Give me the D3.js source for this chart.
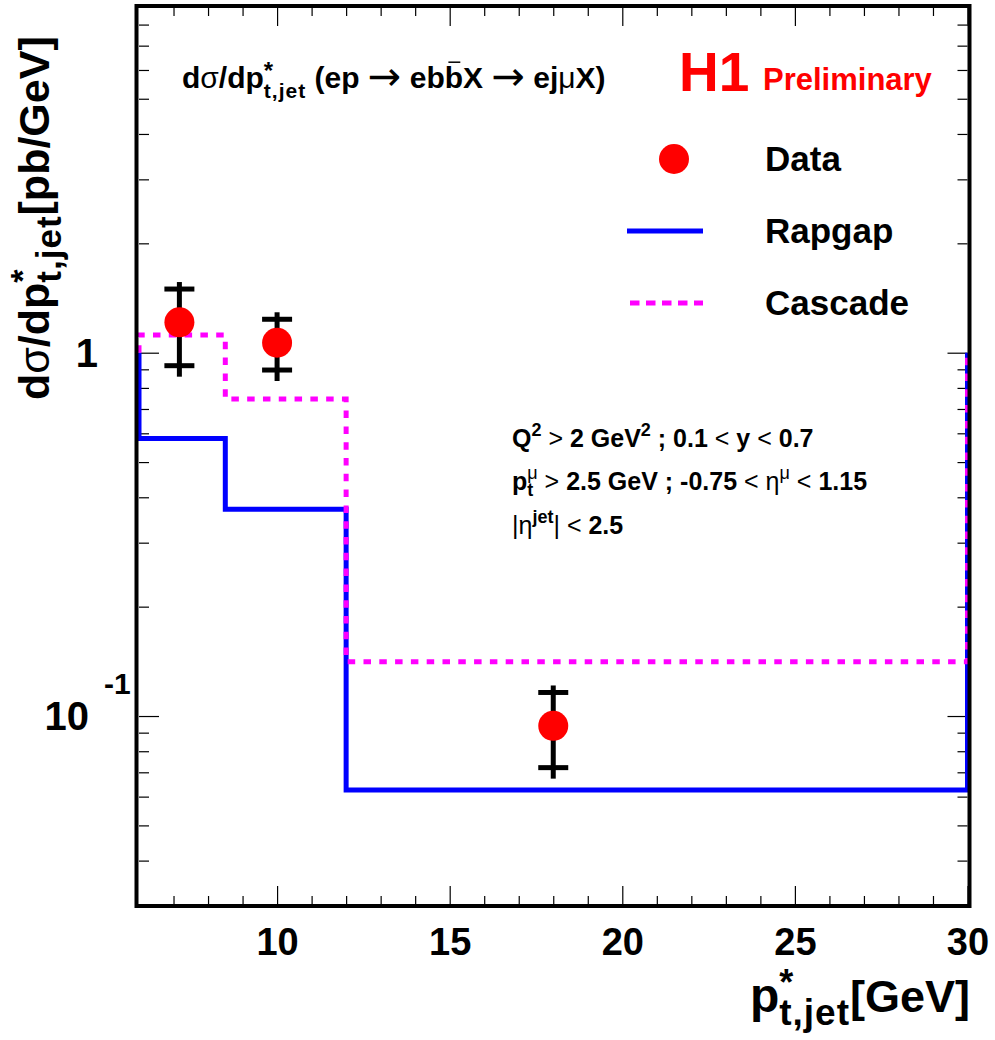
<!DOCTYPE html>
<html><head><meta charset="utf-8">
<script src="https://cdn.jsdelivr.net/npm/d3@7"></script>
<style>
body{margin:0;background:#fff}
svg{display:block}
text{font-family:"Liberation Sans",Arial,Helvetica,sans-serif;font-weight:bold;white-space:pre}
</style>
</head><body><svg id="c" width="995" height="1040"></svg>
<script>
// ---- data ----
const binEdges = [6, 8.5, 12, 30];
const rapgap   = [0.581, 0.371, 0.0626];
const cascade  = [1.118, 0.746, 0.141];
const dataX    = [7.17, 10, 18];
const dataY    = [1.212, 1.065, 0.094];
const dataHi   = [1.497, 1.236, 0.1161];
const dataLo   = [0.921, 0.896, 0.0721];
const xMajor   = [10, 15, 20, 25, 30];
const xMinor   = [7,8,9,11,12,13,14,16,17,18,19,21,22,23,24,26,27,28,29];
const yMajor   = [0.1, 1];
const yMinor   = [0.03,0.04,0.05,0.06,0.07,0.08,0.09,0.2,0.3,0.4,0.5,0.6,0.7,0.8,0.9,2,3,4,5,6,7,8];
const legendNames = ["Data", "Rapgap", "Cascade"];

const svg = d3.select("#c");
const X0 = 139, X1 = 967.5, Y0 = 906, Y1 = 6;
const x = d3.scaleLinear().domain([6, 30]).range([X0, X1]);
const y = d3.scaleLog().domain([0.03, 9]).range([Y0, Y1]);

// rich text helper: one <text> with positioned tspans
function rich(parent, segs, opt) {
  const g = parent.append("g");
  const txt = g.append("text").attr("fill", opt.fill || "#000").attr("xml:space", "preserve");
  let cx = 0, prevStart = 0;
  segs.forEach(s => {
    const size = s.size || opt.size;
    const x0 = s.stack ? prevStart : cx;
    const t = txt.append("tspan").attr("x", x0).attr("y", s.dy || 0)
      .attr("font-size", size)
      .attr("font-weight", s.normal ? "normal" : "bold")
      .text(s.t);
    if (s.family) t.style("font-family", s.family);
    if (s.ls) t.attr("letter-spacing", s.ls);
    const w = t.node().getComputedTextLength();
    if (s.over) {
      g.append("line").attr("x1", x0 + w * 0.2).attr("x2", x0 + w * 0.85)
        .attr("y1", (s.dy || 0) - size * 0.86).attr("y2", (s.dy || 0) - size * 0.86)
        .attr("stroke", opt.fill || "#000").attr("stroke-width", Math.max(1, size * 0.05));
    }
    if (!s.stack) prevStart = x0;
    cx = Math.max(cx, x0 + w);
  });
  const shift = opt.anchor === "end" ? cx : opt.anchor === "middle" ? cx / 2 : 0;
  g.attr("transform", `translate(${opt.x},${opt.y})` + (opt.rotate ? ` rotate(${opt.rotate})` : "") + ` translate(${-shift},0)`);
  return g;
}

// ---- ticks ----
function tickAxis(axisFn, vals, size, tr) {
  const g = svg.append("g").attr("transform", tr)
    .call(axisFn.tickValues(vals).tickSizeInner(-size).tickSizeOuter(0).tickFormat(""));
  g.select(".domain").remove();
  g.selectAll(".tick line").attr("stroke", "#000").attr("stroke-width", 1.2);
  return g;
}
tickAxis(d3.axisLeft(y), yMajor, 20, `translate(${X0},0)`);
tickAxis(d3.axisLeft(y), yMinor, 10, `translate(${X0},0)`);
tickAxis(d3.axisRight(y), yMajor, 20, `translate(${X1},0)`);
tickAxis(d3.axisRight(y), yMinor, 10, `translate(${X1},0)`);
tickAxis(d3.axisBottom(x), xMajor, 20, `translate(0,${Y0})`);
tickAxis(d3.axisBottom(x), xMinor, 10, `translate(0,${Y0})`);
tickAxis(d3.axisTop(x), xMajor, 20, `translate(0,${Y1})`);
tickAxis(d3.axisTop(x), xMinor, 10, `translate(0,${Y1})`);

// x tick labels
const xl = svg.append("g").attr("transform", `translate(0,${Y0})`)
  .call(d3.axisBottom(x).tickValues(xMajor).tickSize(0).tickPadding(22).tickFormat(d3.format("d")));
xl.select(".domain").remove();
xl.selectAll("text").attr("font-size", 38).attr("fill", "#000")
  .style("font-family", '"Liberation Sans",Arial,sans-serif').style("font-weight", "bold");

// y tick labels
rich(svg, [{t: "1"}], {x: 98, y: y(1) + 14, size: 40, anchor: "end"});
rich(svg, [{t: "10"}], {x: 89, y: y(0.1) + 14, size: 40, anchor: "end"});
rich(svg, [{t: "-1"}], {x: 104, y: y(0.1) - 22, size: 30});

// ---- histograms ----
function histPts(vals) {
  const pts = [[binEdges[0], 1]];
  vals.forEach((v, i) => { pts.push([binEdges[i], v]); pts.push([binEdges[i + 1], v]); });
  pts.push([binEdges[binEdges.length - 1], 1]);
  return pts;
}
const line = d3.line().x(d => x(d[0])).y(d => y(d[1]));
svg.append("path").attr("d", line(histPts(rapgap))).attr("fill", "none")
  .attr("stroke", "#0000ff").attr("stroke-width", 5);
svg.append("path").attr("d", line(histPts(cascade))).attr("fill", "none")
  .attr("stroke", "#ff00ff").attr("stroke-width", 5).attr("stroke-dasharray", "7.5,8.3");

// frame (stroke sits just outside the plot area)
svg.append("rect").attr("x", X0 - 2.5).attr("y", Y1).attr("width", X1 - X0 + 4.5).attr("height", Y0 - Y1)
  .attr("fill", "none").attr("stroke", "#000").attr("stroke-width", 4);

// ---- data points ----
const pts = svg.append("g");
dataX.forEach((dx, i) => {
  const px = x(dx);
  pts.append("line").attr("x1", px).attr("x2", px)
    .attr("y1", y(dataHi[i]) - 7).attr("y2", y(dataLo[i]) + 11)
    .attr("stroke", "#000").attr("stroke-width", 5);
  [dataHi[i], dataLo[i]].forEach(v => {
    pts.append("line").attr("x1", px - 15).attr("x2", px + 15)
      .attr("y1", y(v)).attr("y2", y(v)).attr("stroke", "#000").attr("stroke-width", 5);
  });
  pts.append("circle").attr("cx", px).attr("cy", y(dataY[i])).attr("r", 15).attr("fill", "#ff0000");
});

// ---- title ----
const arrowFam = '"DejaVu Sans",sans-serif';
rich(svg, [
  {t: "d"}, {t: "σ", normal: true}, {t: "/dp"},
  {t: "*", size: 24, dy: -9}, {t: "t,jet", size: 21, dy: 10, stack: true, ls: 1},
  {t: " (ep "}, {t: "→", normal: true, size: 40, family: arrowFam, dy: 2}, {t: " eb"}, {t: "b", over: true}, {t: "X "},
  {t: "→", normal: true, size: 40, family: arrowFam, dy: 2}, {t: " ej"}, {t: "μ", normal: true}, {t: "X)"}
], {x: 182, y: 88, size: 30});

// H1 Preliminary
rich(svg, [{t: "H1"}], {x: 679, y: 91, size: 55, fill: "#ff0000"});
rich(svg, [{t: "Preliminary"}], {x: 763, y: 90, size: 31, fill: "#ff0000"});

// ---- legend ----
svg.append("circle").attr("cx", 674).attr("cy", 159).attr("r", 15).attr("fill", "#ff0000");
svg.append("line").attr("x1", 627).attr("x2", 703).attr("y1", 231).attr("y2", 231)
  .attr("stroke", "#0000ff").attr("stroke-width", 5);
svg.append("line").attr("x1", 630).attr("x2", 703).attr("y1", 303).attr("y2", 303)
  .attr("stroke", "#ff00ff").attr("stroke-width", 5).attr("stroke-dasharray", "9.5,6.5");
const legY = [171, 243, 315];
legendNames.forEach((n, i) => rich(svg, [{t: n}], {x: 765, y: legY[i], size: 35}));

// ---- cuts text ----
const fs = 25, ss = 18;
rich(svg, [
  {t: "Q"}, {t: "2", size: ss, dy: -11}, {t: " "}, {t: ">", normal: true}, {t: " 2 GeV"},
  {t: "2", size: ss, dy: -11}, {t: " ; 0.1 "}, {t: "<", normal: true}, {t: " y "},
  {t: "<", normal: true}, {t: " 0.7"}
], {x: 512, y: 447, size: fs});
rich(svg, [
  {t: "p"}, {t: "μ", size: ss, dy: -11, normal: true}, {t: "t", size: ss, dy: 6, stack: true},
  {t: " "}, {t: ">", normal: true}, {t: " 2.5 GeV ; -0.75 "}, {t: "<", normal: true}, {t: " "},
  {t: "η", normal: true}, {t: "μ", size: ss, dy: -11, normal: true}, {t: " "},
  {t: "<", normal: true}, {t: " 1.15"}
], {x: 512, y: 490, size: fs});
rich(svg, [
  {t: "|", normal: true}, {t: "η", normal: true}, {t: "jet", size: ss, dy: -11},
  {t: "|", normal: true}, {t: " "}, {t: "<", normal: true}, {t: " 2.5"}
], {x: 512, y: 534, size: fs});

// ---- axis titles ----
rich(svg, [
  {t: "p"}, {t: "*", size: 36, dy: -17}, {t: "t,jet", size: 37, dy: 13, stack: true, ls: 1}, {t: "[GeV]", size: 45}
], {x: 970, y: 1012, size: 48, anchor: "end"});
rich(svg, [
  {t: "d"}, {t: "σ", normal: true}, {t: "/dp"},
  {t: "*", size: 34, dy: -15}, {t: "t,jet", size: 35, dy: 12, stack: true, ls: 1}, {t: "[pb/GeV]"}
], {x: 49, y: 400, size: 43, rotate: -90});
</script></body></html>
